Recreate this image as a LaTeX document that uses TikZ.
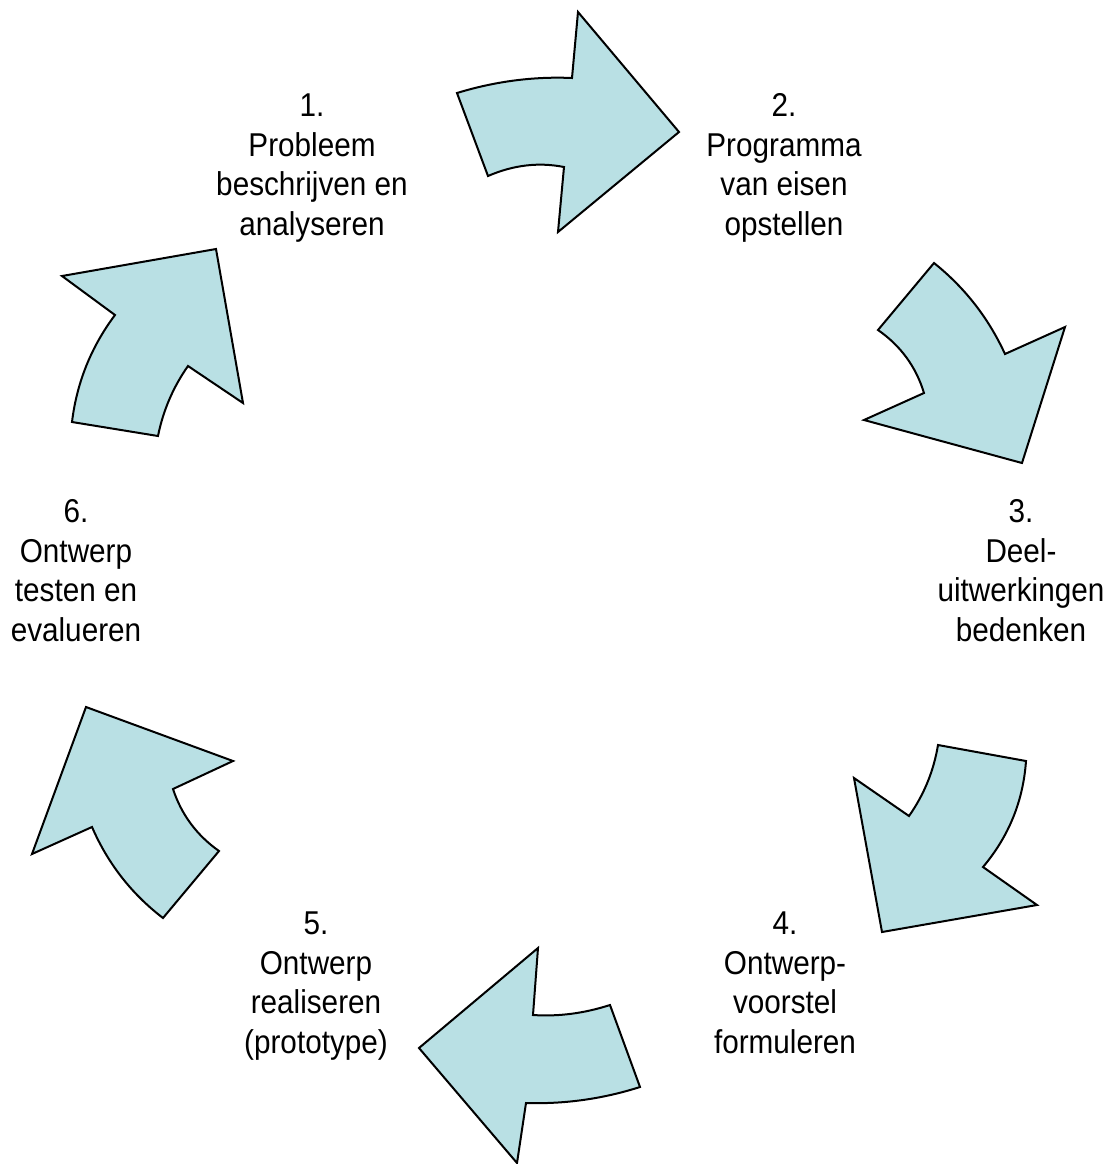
\documentclass[tikz,border=0pt]{standalone}
\usepackage{fontspec}
\setmainfont[FakeStretch=0.9]{Liberation Sans}
\definecolor{arrowfill}{RGB}{185,224,228}
\begin{document}
\begin{tikzpicture}[x=0.5pt,y=-0.5pt,
  cyclearrow/.style={draw=black, fill=arrowfill, line width=1pt, line join=miter},
  steplabel/.style={anchor=north, inner sep=0pt, align=center,
    font=\fontsize{16.5}{19.75}\selectfont}]
\useasboundingbox (0,0) rectangle (1107,1164);

% 1 -> 2 (top)
\draw[cyclearrow] (457,93) .. controls (495.3,81.3) and (533.7,76.3) .. (572,78) -- (578,12) -- (679,132)
  -- (558,232) -- (564,167) .. controls (538.7,162) and (513.3,165) .. (488,176) -- cycle;
% 2 -> 3 (upper right)
\draw[cyclearrow] (934,263) .. controls (964.9,287.7) and (988.5,318.1) .. (1005,354) -- (1065,327) -- (1022,463)
  -- (864,420) -- (924,393) .. controls (916,366.7) and (900.6,345.7) .. (878,330) -- cycle;
% 3 -> 4 (lower right)
\draw[cyclearrow] (1026,761) -- (938,745) .. controls (933.7,770.9) and (924.1,794.5) .. (909,816) -- (854,778)
  -- (882,932) -- (1037,905) -- (983,867) .. controls (1008.8,836.4) and (1023.2,801) .. (1026,761) -- cycle;
% 4 -> 5 (bottom)
\draw[cyclearrow] (610,1005) .. controls (584.3,1013.3) and (558.7,1016.7) .. (533,1015) -- (538,948) -- (419,1048)
  -- (517,1163) -- (526,1103) .. controls (565,1104.2) and (603,1098.8) .. (640,1087) -- cycle;
% 5 -> 6 (lower left)
\draw[cyclearrow] (86,707) -- (233,761) -- (173,789) .. controls (181.5,814.8) and (196.9,835.4) .. (219,851)
  -- (163,918) .. controls (131.4,893.8) and (107.8,863.4) .. (92,827) -- (32,854) -- cycle;
% 6 -> 1 (upper left)
\draw[cyclearrow] (62,276) -- (216,249) -- (243,403) -- (188,366) .. controls (173.1,387.2) and (163.1,410.6) .. (158,436)
  -- (72,422) .. controls (76.8,382.4) and (91.2,346.8) .. (115,315) -- cycle;

% step labels
\node[steplabel] (s1) at (312,93.4) {1.\\Probleem\\beschrijven en\\analyseren};
\node[steplabel] (s2) at (784,93.4) {2.\\Programma\\van eisen\\opstellen};
\node[steplabel] (s3) at (1021,499.5) {3.\\Deel-\\uitwerkingen\\bedenken};
\node[steplabel] (s4) at (785,911.5) {4.\\Ontwerp-\\voorstel\\formuleren};
\node[steplabel] (s5) at (316,911.5) {5.\\Ontwerp\\realiseren\\(prototype)};
\node[steplabel] (s6) at (76,499.5) {6.\\Ontwerp\\testen en\\evalueren};
\end{tikzpicture}
\end{document}
